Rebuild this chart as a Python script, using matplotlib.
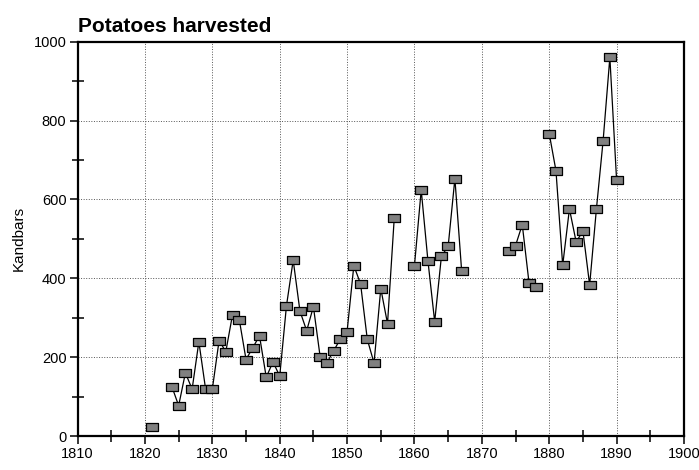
import numpy as np
import matplotlib
matplotlib.use('Agg')
import matplotlib.pyplot as plt
from matplotlib.ticker import MultipleLocator

plt.rcParams['font.family'] = ['Liberation Sans', 'DejaVu Sans']

# Harvest per year (NaN = no record, breaks the line)
years = list(range(1821, 1891))
kandbars = [
    23, np.nan, np.nan, 125, 77, 160, 119, 239, 119, 119,          # 1821-1830
    242, 214, 308, 295, 194, 224, 254, 149, 188, 152,              # 1831-1840
    330, 446, 317, 267, 328, 201, 186, 216, 246, 265,              # 1841-1850
    432, 386, 245, 185, 374, 285, 553, np.nan, np.nan, 432,        # 1851-1860
    624, 444, 290, 456, 481, 653, 419, np.nan, np.nan, np.nan,     # 1861-1870
    np.nan, np.nan, np.nan, 470, 483, 536, 389, 377, np.nan, 767,  # 1871-1880
    673, 433, 576, 492, 520, 383, 575, 749, 960, 649,              # 1881-1890
]

# wide rectangle marker
rect = [(-1, -0.65), (1, -0.65), (1, 0.65), (-1, 0.65), (-1, -0.65)]

fig = plt.figure(figsize=(6.99, 4.70), dpi=100)
ax = fig.add_axes([0.111, 0.0723, 0.8675, 0.839])

ax.plot(years, kandbars, color='black', linewidth=0.9,
        marker=rect, markersize=9, markerfacecolor='#808080',
        markeredgecolor='black', markeredgewidth=0.9)

ax.set_xlim(1810, 1900)
ax.set_ylim(0, 1000)
ax.xaxis.set_major_locator(MultipleLocator(10))
ax.xaxis.set_minor_locator(MultipleLocator(5))
ax.yaxis.set_major_locator(MultipleLocator(200))
ax.yaxis.set_minor_locator(MultipleLocator(100))

ax.tick_params(which='major', direction='out', length=6, width=1.1, labelsize=10.5, pad=2)
ax.tick_params(which='minor', direction='inout', length=8, width=1.1)
for s in ax.spines.values():
    s.set_linewidth(1.6)

ax.grid(True, which='major', linestyle=':', color='#555555', linewidth=0.7)

ax.set_ylabel('Kandbars', fontsize=11, labelpad=6)
ax.set_title('Potatoes harvested', loc='left', fontsize=15, fontweight='bold', pad=7)

fig.savefig('out.png', dpi=100)
